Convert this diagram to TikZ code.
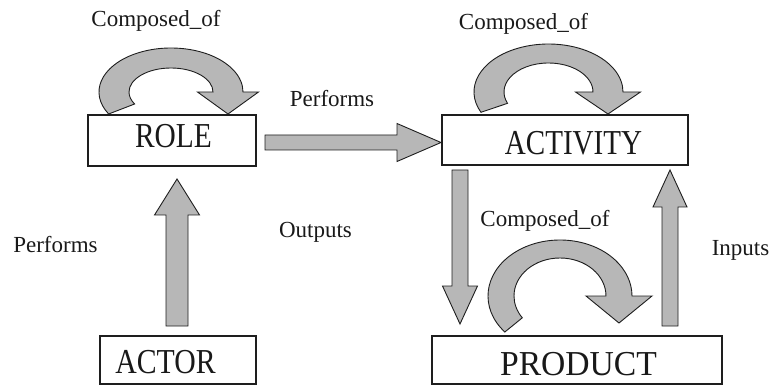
\documentclass[tikz,border=0pt]{standalone}
\usepackage{fontspec}
\setmainfont{Liberation Serif}
\usetikzlibrary{calc}
\definecolor{arrowgray}{RGB}{183,183,183}
\definecolor{edgecol}{RGB}{30,30,30}
\definecolor{ink}{RGB}{25,25,25}
\tikzset{
  box/.style={draw=edgecol, line width=1.4pt, fill=white, inner sep=0pt, rectangle},
  boxtext/.style={font=\fontsize{35}{40}\selectfont, text=ink, anchor=base, inner sep=0pt},
  lbl/.style={font=\fontsize{23}{26}\selectfont, text=ink, anchor=base, inner sep=0pt},
  blockarrow/.style={fill=arrowgray, draw=edgecol, line width=0.9pt, line join=miter},
}
% straight block arrow: start, end, shaft half width, head half width, head length
\newcommand{\blockarrow}[5]{%
  \filldraw[blockarrow] let \p1=(#1), \p2=(#2),
    \n1={atan2(\y2-\y1,\x2-\x1)}, \n2={veclen(\x2-\x1,\y2-\y1)}, \n3={\n2-#5} in
    [shift={(\p1)}, rotate=\n1]
    (0pt,#3pt) -- (\n3,#3pt) -- (\n3,#4pt) -- (\n2,0pt) -- (\n3,-#4pt) -- (\n3,-#3pt) -- (0pt,-#3pt) -- cycle;}
% curved self-loop arrow: center, outer rx, outer ry, inner rx, inner ry, outer start angle, inner end angle, wing, drop
\newcommand{\loopArrow}[9]{%
  \filldraw[blockarrow] ([shift={(#6:#2pt and #3pt)}]#1)
    arc[start angle=#6, end angle=0, x radius=#2pt, y radius=#3pt]
    -- ++(#8pt,0pt)
    -- ($(#1)+({(#2+#4)/2*1pt},{-#9*1pt})$)
    -- ($(#1)+({(#4-#8)*1pt},0pt)$)
    -- ($(#1)+(#4pt,0pt)$)
    arc[start angle=0, end angle=#7, x radius=#4pt, y radius=#5pt]
    -- cycle;}
\begin{document}
\begin{tikzpicture}[x=1pt, y=-1pt]
\useasboundingbox (0,0) rectangle (772,385);

% boxes
\node[box, minimum width=168pt, minimum height=51pt] (role) at (172,140.5) {};
\node[box, minimum width=246pt, minimum height=50pt] (activity) at (565,140) {};
\node[box, minimum width=156pt, minimum height=48pt] (actor) at (178,360) {};
\node[box, minimum width=290pt, minimum height=48pt] (product) at (577,360) {};

\node[boxtext] (roletxt) at (173.5,148) {\scalebox{0.84}[1]{ROLE}};
\node[boxtext] (activitytxt) at (573.5,155) {\scalebox{0.83}[1]{ACTIVITY}};
\node[boxtext] (actortxt) at (165.5,373) {\scalebox{0.85}[1]{ACTOR}};
\node[boxtext] (producttxt) at (578.5,375) {\scalebox{0.96}[1]{PRODUCT}};

% loop centres
\coordinate (cenrole) at (171,92);
\coordinate (cenact) at (548.5,92);
\coordinate (cenprod) at (560,296);

\loopArrow{cenrole}{72}{44}{42}{24}{210}{210}{15.5}{22}
\loopArrow{cenact}{74.5}{48}{44.5}{29}{205}{203}{17.5}{22}
\loopArrow{cenprod}{72}{56}{46}{38}{220}{215}{20}{27}

% straight block arrows
\coordinate (a1s) at (177,326);
\coordinate (a1e) at (177,179);
\coordinate (a2s) at (265,142.5);
\coordinate (a2e) at (441,142.5);
\coordinate (a3s) at (460,170);
\coordinate (a3e) at (460,324);
\coordinate (a4s) at (670,326);
\coordinate (a4e) at (670,170);

\blockarrow{a1s}{a1e}{11}{22.5}{36}
\blockarrow{a2s}{a2e}{7.5}{19}{44}
\blockarrow{a3s}{a3e}{8}{17.5}{38}
\blockarrow{a4s}{a4e}{8}{17}{37}

% labels
\node[lbl] (co1) at (156,27) {Composed\_of};
\node[lbl] (co2) at (523.5,30) {Composed\_of};
\node[lbl] (co3) at (545,227) {Composed\_of};
\node[lbl] (perf1) at (332,107) {Performs};
\node[lbl] (perf2) at (55.5,252) {Performs};
\node[lbl] (outp) at (315.5,237) {Outputs};
\node[lbl] (inp) at (740.5,255) {Inputs};
\end{tikzpicture}
\end{document}
